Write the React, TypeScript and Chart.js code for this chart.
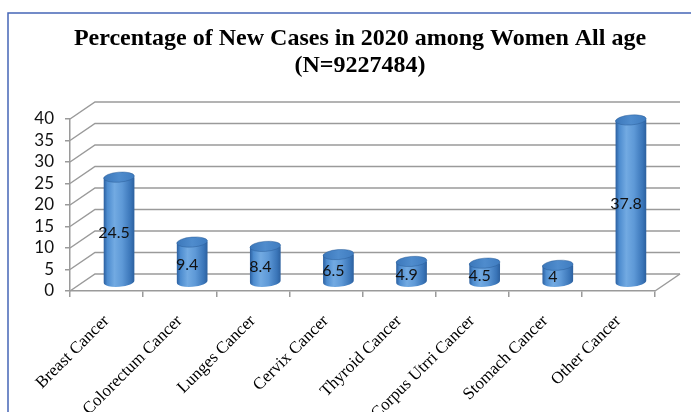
import React, { useEffect, useRef } from 'react';
import { Chart, registerables } from 'chart.js';

Chart.register(...registerables);

const titleLines = ['Percentage of New Cases in 2020 among Women All age', '(N=9227484)'];
const categories = [
  'Breast Cancer',
  'Colorectum Cancer',
  'Lunges Cancer',
  'Cervix Cancer',
  'Thyroid Cancer',
  'Corpus Utrri Cancer',
  'Stomach Cancer',
  'Other Cancer',
];
const values = [24.5, 9.4, 8.4, 6.5, 4.9, 4.5, 4, 37.8];
const yMin = 0;
const yMax = 40;
const yStep = 5;

const DEPTH_X = 25;
const DEPTH_Y = 17;
const GRID = '#9a9a9a';
const SERIF = '"Liberation Serif", "Times New Roman", serif';
const SANS = 'Lato, "Open Sans", sans-serif';

const framePlugin = {
  id: 'frame',
  beforeDraw(chart: any) {
    const { ctx, width, height } = chart;
    ctx.save();
    ctx.fillStyle = '#ffffff';
    ctx.fillRect(0, 0, width, height);
    ctx.strokeStyle = '#4566b6';
    ctx.lineWidth = 1.5;
    ctx.beginPath();
    ctx.moveTo(8, height);
    ctx.lineTo(8, 13);
    ctx.lineTo(width, 13);
    ctx.stroke();

    ctx.fillStyle = '#000';
    ctx.font = `bold 24px ${SERIF}`;
    ctx.textAlign = 'center';
    ctx.textBaseline = 'alphabetic';
    ctx.fillText(titleLines[0], 360, 45);
    ctx.fillText(titleLines[1], 360, 72);
    ctx.restore();
  },
};

const wallPlugin = {
  id: 'wall3d',
  beforeDatasetsDraw(chart: any) {
    const { ctx, chartArea, scales } = chart;
    const ys = scales.y;
    const { left, right, bottom } = chartArea;
    ctx.save();
    ctx.strokeStyle = GRID;
    ctx.lineWidth = 1.5;
    for (let v = yMin; v <= yMax; v += yStep) {
      const y = ys.getPixelForValue(v);
      ctx.beginPath();
      ctx.moveTo(left, y);
      ctx.lineTo(left + DEPTH_X, y - DEPTH_Y);
      ctx.lineTo(right + DEPTH_X, y - DEPTH_Y);
      ctx.stroke();
    }
    ctx.beginPath();
    ctx.moveTo(right, bottom);
    ctx.lineTo(right + DEPTH_X, bottom - DEPTH_Y);
    ctx.stroke();
    ctx.restore();
  },
};

const cylinderPlugin = {
  id: 'cylinders',
  afterDatasetsDraw(chart: any) {
    const { ctx } = chart;
    const meta = chart.getDatasetMeta(0);
    ctx.save();
    meta.data.forEach((bar: any, i: number) => {
      const w = bar.width;
      const rx = w / 2;
      const ry = 5;
      const cx = bar.x + DEPTH_X / 2;
      const yTop = bar.y - DEPTH_Y / 2;
      const yBot = bar.base - DEPTH_Y / 2;
      const tilt = -0.08;

      const grad = ctx.createLinearGradient(cx - rx, 0, cx + rx, 0);
      grad.addColorStop(0, '#2b5f9f');
      grad.addColorStop(0.12, '#4d8ccf');
      grad.addColorStop(0.35, '#72aae2');
      grad.addColorStop(0.6, '#5e99d7');
      grad.addColorStop(0.88, '#3a75b8');
      grad.addColorStop(1, '#2c609e');

      ctx.beginPath();
      ctx.moveTo(cx - rx, yTop);
      ctx.lineTo(cx - rx, yBot);
      ctx.ellipse(cx, yBot, rx, ry, tilt, Math.PI, 0, true);
      ctx.lineTo(cx + rx, yTop);
      ctx.closePath();
      ctx.fillStyle = grad;
      ctx.fill();

      const tg = ctx.createLinearGradient(cx - rx, yTop, cx + rx, yTop);
      tg.addColorStop(0, '#3c78bb');
      tg.addColorStop(0.5, '#4f8ccd');
      tg.addColorStop(1, '#3f7cc0');
      ctx.beginPath();
      ctx.ellipse(cx, yTop, rx, ry, tilt, 0, Math.PI * 2);
      ctx.fillStyle = tg;
      ctx.fill();
      ctx.strokeStyle = 'rgba(40,90,150,0.6)';
      ctx.lineWidth = 0.8;
      ctx.stroke();

      ctx.font = `16px ${SANS}`;
      ctx.fillStyle = '#111';
      ctx.textAlign = 'center';
      ctx.textBaseline = 'middle';
      ctx.fillText(String(values[i]), cx - 5, (yTop + yBot) / 2 + 3);
    });
    ctx.restore();
  },
};

export default function App() {
  const ref = useRef<HTMLCanvasElement | null>(null);

  useEffect(() => {
    if (!ref.current) return;
    const chart = new Chart(ref.current, {
      type: 'bar',
      data: {
        labels: categories,
        datasets: [
          {
            data: values,
            backgroundColor: 'rgba(0,0,0,0)',
            borderWidth: 0,
            barPercentage: 0.42,
            categoryPercentage: 1,
          },
        ],
      },
      options: {
        animation: false,
        responsive: true,
        maintainAspectRatio: false,
        layout: { padding: { left: 0, right: 36, top: 119, bottom: 0 } },
        plugins: {
          legend: { display: false },
          tooltip: { enabled: false },
          title: { display: false },
        },
        scales: {
          x: {
            offset: true,
            afterFit: (scale: any) => {
              scale.height = 121;
            },
            grid: { drawOnChartArea: false, color: GRID, tickLength: 6, lineWidth: 1.5, offset: true },
            border: { color: GRID, width: 1.5 },
            ticks: {
              autoSkip: false,
              minRotation: 45,
              maxRotation: 45,
              padding: 14,
              color: '#000',
              font: { family: SERIF, size: 17 },
            },
          },
          y: {
            min: yMin,
            max: yMax,
            afterFit: (scale: any) => {
              scale.width = 70;
            },
            grid: { drawOnChartArea: false, color: GRID, tickLength: 5, lineWidth: 1.5 },
            border: { color: GRID, width: 1.5 },
            ticks: {
              stepSize: yStep,
              autoSkip: false,
              padding: 11,
              color: '#111',
              font: { family: SANS, size: 17 },
            },
          },
        },
      },
      plugins: [framePlugin, wallPlugin, cylinderPlugin],
    });
    return () => chart.destroy();
  }, []);

  return (
    <div style={{ position: 'absolute', left: 0, top: 0, width: 691, height: 412 }}>
      <canvas ref={ref} />
    </div>
  );
}
